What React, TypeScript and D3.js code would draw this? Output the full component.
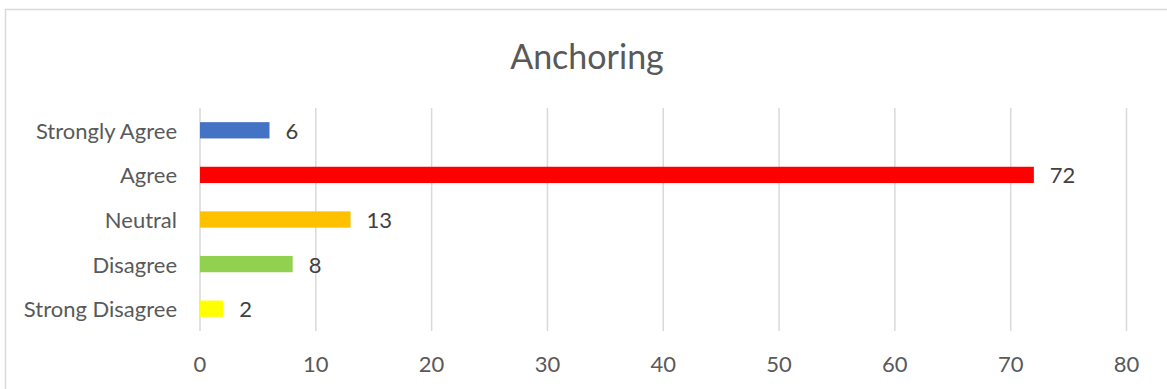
import React from "react";
import * as d3 from "d3";

const categories = ["Strongly Agree", "Agree", "Neutral", "Disagree", "Strong Disagree"];
const values = [6, 72, 13, 8, 2];
const barColors = ["#4472C4", "#FF0000", "#FFC000", "#92D050", "#FFFF00"];
const xTicks = [0, 10, 20, 30, 40, 50, 60, 70, 80];
const title = "Anchoring";

const W = 1167;
const H = 389;
const FONT = "Lato, 'Open Sans', sans-serif";
const TEXT = "#595959";

export default function App() {
  const x = d3.scaleLinear().domain([0, 80]).range([200, 1126.5]);
  const y = d3
    .scaleBand<string>()
    .domain(categories)
    .range([108, 331])
    .paddingInner(0.635)
    .paddingOuter(0.3175);

  return (
    <svg
      width={W}
      height={H}
      style={{ position: "absolute", left: 0, top: 0, background: "#fff" }}
    >
      <rect x={5.5} y={9.5} width={W + 20} height={H + 20} fill="#fff" stroke="#d9d9d9" strokeWidth={1.5} />
      <text x={587} y={55} textAnchor="middle" dominantBaseline="central" fontFamily={FONT} fontSize={34} fill={TEXT}>
        {title}
      </text>
      {xTicks.map((t) => (
        <g key={t}>
          <line x1={x(t)} x2={x(t)} y1={108} y2={331} stroke="#d9d9d9" strokeWidth={1.5} />
          <text x={x(t)} y={363} textAnchor="middle" dominantBaseline="central" fontFamily={FONT} fontSize={22} fill={TEXT}>
            {t}
          </text>
        </g>
      ))}
      {categories.map((c, i) => {
        const yy = y(c)!;
        const bw = y.bandwidth();
        return (
          <g key={c}>
            <text x={177} y={yy + bw / 2} textAnchor="end" dominantBaseline="central" fontFamily={FONT} fontSize={22} fill={TEXT}>
              {c}
            </text>
            <rect x={x(0)} y={yy} width={x(values[i]) - x(0)} height={bw} fill={barColors[i]} />
            <text x={x(values[i]) + 16} y={yy + bw / 2} textAnchor="start" dominantBaseline="central" fontFamily={FONT} fontSize={22} fill="#404040">
              {values[i]}
            </text>
          </g>
        );
      })}
    </svg>
  );
}
